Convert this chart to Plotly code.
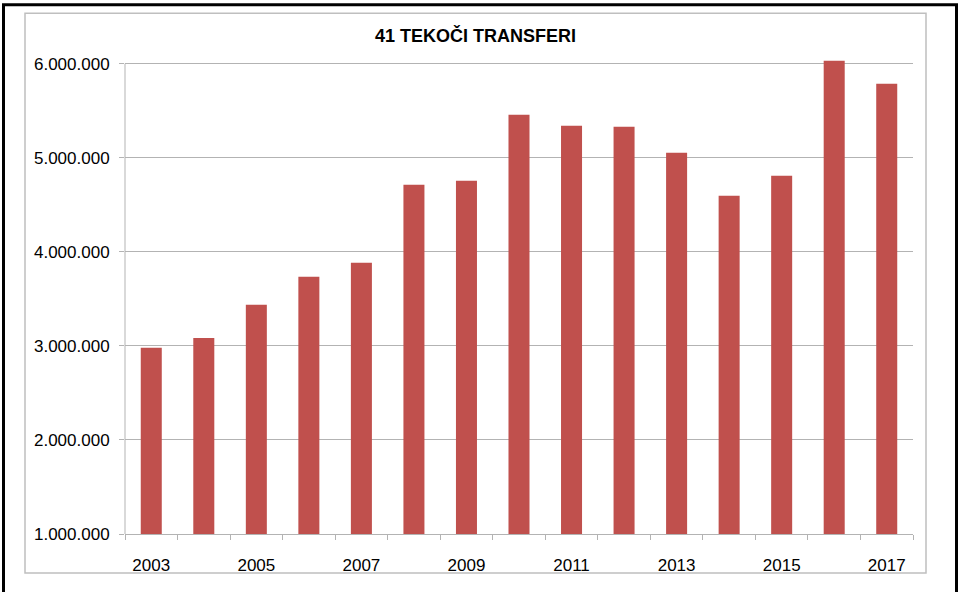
import plotly.graph_objects as go

# podatki
years = list(range(2003, 2018))
values = [2980000, 3085000, 3436000, 3734000, 3883000, 4713000, 4755000,
          5457000, 5340000, 5330000, 5053000, 4596000, 4809000, 6032000, 5787000]
label_years = years[::2]
y_ticks = [1000000, 2000000, 3000000, 4000000, 5000000, 6000000]
title = "41 TEKOČI TRANSFERI"

W, H = 960, 592
y_top = 6050000                  # a bit of headroom so the 2016 bar isn't clipped
L, R, B = 125, 913, 534          # plot area in pixels (6.000.000 sits at y=64)
T = B - (B - 64) * (y_top - y_ticks[0]) / (y_ticks[-1] - y_ticks[0])


def px_x(p):
    return (p - L) / (R - L)


def px_y(p):
    return (B - p) / (B - T)


grid = "#B3B3B3"
font = "Liberation Sans, Arial, sans-serif"

fig = go.Figure()

fig.add_trace(go.Bar(
    x=years,
    y=[v - y_ticks[0] for v in values],
    base=y_ticks[0],
    marker=dict(color="#C0504D", line=dict(width=0)),
    hovertemplate="%{x}: %{customdata:,.0f}<extra></extra>",
    customdata=values,
))

boundaries = [y - 0.5 for y in years] + [years[-1] + 0.5]

fig.update_layout(
    width=W, height=H,
    margin=dict(l=L, r=W - R, t=T, b=H - B, pad=0),
    plot_bgcolor="white",
    paper_bgcolor="white",
    separators=",.",
    showlegend=False,
    bargap=0.6,
    font=dict(family=font, size=17, color="#000000"),
    xaxis=dict(
        range=[boundaries[0], boundaries[-1]],
        tickmode="array",
        tickvals=label_years,
        ticktext=[str(y) for y in label_years],
        ticks="",
        ticklabelstandoff=16,
        showgrid=False,
        zeroline=False,
        showline=True,
        linecolor=grid,
        linewidth=1,
        minor=dict(tickmode="array", tickvals=boundaries, ticks="outside",
                   ticklen=5, tickcolor=grid, tickwidth=1, showgrid=False),
        fixedrange=True,
    ),
    yaxis=dict(
        range=[y_ticks[0], y_top],
        tickmode="array",
        tickvals=y_ticks,
        tickformat=",.0f",
        ticks="outside",
        ticklen=5,
        tickcolor=grid,
        ticklabelstandoff=6,
        showgrid=True,
        gridcolor=grid,
        gridwidth=1,
        zeroline=False,
        showline=False,
        fixedrange=True,
    ),
    shapes=[
        # outer black frame
        dict(type="rect", xref="paper", yref="paper",
             x0=px_x(3.5), x1=px_x(956.5), y0=px_y(600), y1=px_y(5),
             line=dict(color="black", width=3), layer="below"),
        # chart area frame
        dict(type="rect", xref="paper", yref="paper",
             x0=px_x(25), x1=px_x(926), y0=px_y(573), y1=px_y(13.5),
             line=dict(color="#BFBFBF", width=1.5), layer="below"),
        # value axis line, only up to the top tick
        dict(type="line", xref="paper", yref="y",
             x0=0, x1=0, y0=y_ticks[0], y1=y_ticks[-1],
             line=dict(color=grid, width=1), layer="below"),
    ],
    annotations=[
        dict(text="<b>" + title + "</b>", xref="paper", yref="paper",
             x=px_x(475), y=px_y(36), xanchor="center", yanchor="middle",
             showarrow=False, font=dict(family=font, size=18, color="black")),
    ],
)

fig.write_html("out.html", config={"displayModeBar": False},
               post_script="document.body.style.margin='0px';")
